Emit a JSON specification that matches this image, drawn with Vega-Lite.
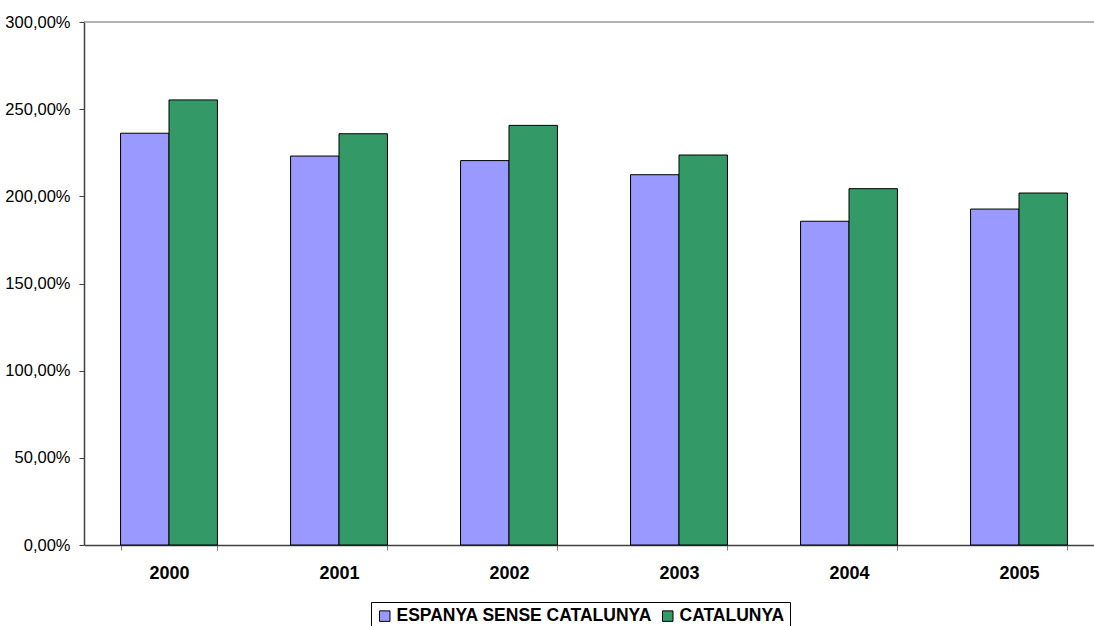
{
  "$schema": "https://vega.github.io/schema/vega-lite/v6.json",
  "width": 1010,
  "height": 523,
  "autosize": {"type": "none"},
  "padding": {"left": 84, "top": 22, "right": 0, "bottom": 81},
  "background": "white",
  "config": {"view": {"stroke": null}, "font": "Liberation Sans"},
  "data": {
    "values": [
      {"year": "2000", "serie": "ESPANYA SENSE CATALUNYA", "value": 236.2},
      {"year": "2000", "serie": "CATALUNYA", "value": 255.3},
      {"year": "2001", "serie": "ESPANYA SENSE CATALUNYA", "value": 223.1},
      {"year": "2001", "serie": "CATALUNYA", "value": 235.9},
      {"year": "2002", "serie": "ESPANYA SENSE CATALUNYA", "value": 220.5},
      {"year": "2002", "serie": "CATALUNYA", "value": 240.7},
      {"year": "2003", "serie": "ESPANYA SENSE CATALUNYA", "value": 212.4},
      {"year": "2003", "serie": "CATALUNYA", "value": 223.7},
      {"year": "2004", "serie": "ESPANYA SENSE CATALUNYA", "value": 185.7},
      {"year": "2004", "serie": "CATALUNYA", "value": 204.4},
      {"year": "2005", "serie": "ESPANYA SENSE CATALUNYA", "value": 192.7},
      {"year": "2005", "serie": "CATALUNYA", "value": 201.9}
    ]
  },
  "layer": [
    {
      "data": {"values": [{"v": 300}]},
      "mark": {"type": "rule", "color": "#999999", "strokeWidth": 1.5},
      "encoding": {"y": {"field": "v", "type": "quantitative"}}
    },
    {
      "mark": {"type": "bar", "stroke": "black", "strokeWidth": 1},
      "encoding": {
        "x": {
          "field": "year",
          "type": "nominal",
          "scale": {"range": [0, 1020], "paddingInner": 0.43, "paddingOuter": 0.215},
          "axis": {
            "title": null,
            "labelAngle": 0,
            "labelFont": "Liberation Sans",
            "labelFontSize": 18,
            "labelFontWeight": "bold",
            "labelColor": "black",
            "tickBand": "extent",
            "tickSize": 5,
            "tickColor": "#808080",
            "domainColor": "#404040",
            "domainWidth": 1.5,
            "labelPadding": 14
          }
        },
        "xOffset": {"field": "serie", "sort": ["ESPANYA SENSE CATALUNYA", "CATALUNYA"]},
        "y": {
          "field": "value",
          "type": "quantitative",
          "scale": {"domain": [0, 300], "nice": false},
          "axis": {
            "title": null,
            "values": [0, 50, 100, 150, 200, 250, 300],
            "labelExpr": "replace(format(datum.value, '.2f'), '.', ',') + '%'",
            "labelFont": "Liberation Sans",
            "labelFontSize": 16.5,
            "labelColor": "black",
            "grid": false,
            "domainColor": "#404040",
            "domainWidth": 1.5,
            "tickColor": "#404040",
            "tickSize": 5,
            "labelPadding": 9
          }
        },
        "color": {
          "field": "serie",
          "type": "nominal",
          "sort": ["ESPANYA SENSE CATALUNYA", "CATALUNYA"],
          "scale": {"range": ["#9999FF", "#339966"]},
          "legend": {
            "orient": "none",
            "legendX": 287,
            "legendY": 580,
            "direction": "horizontal",
            "title": null,
            "labelFont": "Liberation Sans",
            "labelFontSize": 17.5,
            "labelFontWeight": "bold",
            "labelColor": "black",
            "labelLimit": 500,
            "symbolType": "square",
            "symbolSize": 110,
            "symbolStrokeColor": "black",
            "symbolStrokeWidth": 1,
            "symbolOpacity": 1,
            "strokeColor": "black",
            "fillColor": "white",
            "padding": 5,
            "columnPadding": 7,
            "labelOffset": 3
          }
        }
      }
    }
  ]
}
